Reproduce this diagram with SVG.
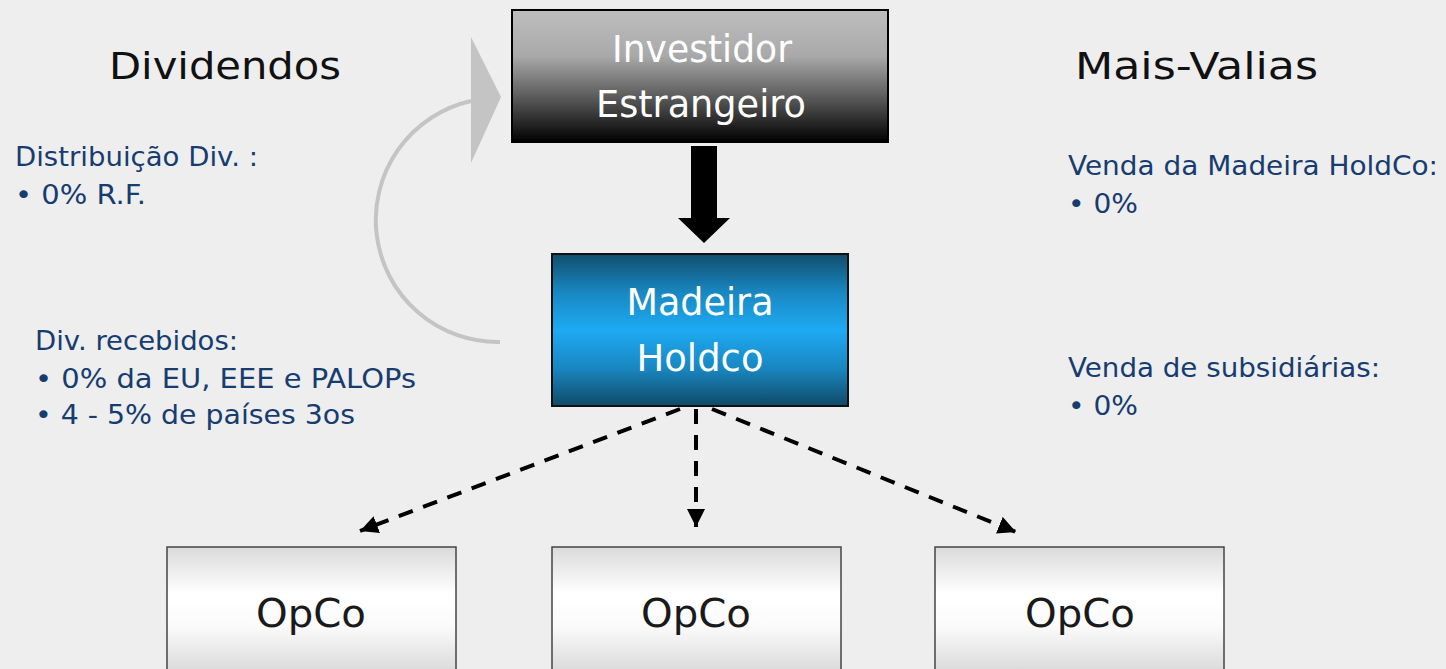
<svg xmlns="http://www.w3.org/2000/svg" width="1446" height="669" viewBox="0 0 1446 669">
  <defs>
    <linearGradient id="gInv" x1="0" y1="0" x2="0" y2="1">
      <stop offset="0" stop-color="#bebebe"/>
      <stop offset="0.35" stop-color="#a9a9a9"/>
      <stop offset="0.7" stop-color="#505050"/>
      <stop offset="1" stop-color="#000000"/>
    </linearGradient>
    <linearGradient id="gMad" x1="0" y1="0" x2="0" y2="1">
      <stop offset="0" stop-color="#104e6c"/>
      <stop offset="0.25" stop-color="#1987c1"/>
      <stop offset="0.5" stop-color="#1eaaf3"/>
      <stop offset="0.75" stop-color="#1987c1"/>
      <stop offset="1" stop-color="#0f4a68"/>
    </linearGradient>
    <linearGradient id="gOp" x1="0" y1="0" x2="0" y2="1">
      <stop offset="0" stop-color="#dadada"/>
      <stop offset="0.35" stop-color="#ffffff"/>
      <stop offset="0.6" stop-color="#fbfbfb"/>
      <stop offset="0.95" stop-color="#d9d9d9"/>
      <stop offset="1" stop-color="#d6d6d6"/>
    </linearGradient>
    <marker id="ah" markerUnits="userSpaceOnUse" markerWidth="18" markerHeight="18" refX="16" refY="8" orient="auto" viewBox="0 0 16 16">
      <path d="M0,0 L16,8 L0,16 z" fill="#000"/>
    </marker>
  </defs>
  <style>
    .title { font-family: "DejaVu Sans", Verdana, sans-serif; font-size: 38px; fill: #111; }
    .box { font-family: "DejaVu Sans", Verdana, sans-serif; font-size: 37px; fill: #ffffff; text-anchor: middle; }
    .op { font-family: "DejaVu Sans", Verdana, sans-serif; font-size: 39px; fill: #1a1a1a; text-anchor: middle; }
    .note { font-family: "DejaVu Sans", Verdana, sans-serif; font-size: 27px; fill: #173c70; }
    .dash { fill: none; stroke: #000; stroke-width: 4; stroke-dasharray: 15 11; marker-end: url(#ah); }
  </style>
  <rect x="0" y="0" width="1446" height="669" fill="#eeeeee"/>

  <g id="label-dividendos">
    <text class="title" x="109" y="79" textLength="232" lengthAdjust="spacingAndGlyphs">Dividendos</text>
  </g>
  <g id="label-maisvalias">
    <text class="title" x="1075" y="79" textLength="243" lengthAdjust="spacingAndGlyphs">Mais-Valias</text>
  </g>

  <g id="notes-left">
    <text class="note" x="15" y="166" textLength="243" lengthAdjust="spacingAndGlyphs">Distribuição Div. :</text>
    <text class="note" x="15" y="204" textLength="131" lengthAdjust="spacingAndGlyphs">• 0% R.F.</text>
    <text class="note" x="35" y="350" textLength="203" lengthAdjust="spacingAndGlyphs">Div. recebidos:</text>
    <text class="note" x="35" y="388" textLength="381" lengthAdjust="spacingAndGlyphs">• 0% da EU, EEE e PALOPs</text>
    <text class="note" x="35" y="424" textLength="320" lengthAdjust="spacingAndGlyphs">• 4 - 5% de países 3os</text>
  </g>

  <g id="notes-right">
    <text class="note" x="1068" y="175" textLength="370" lengthAdjust="spacingAndGlyphs">Venda da Madeira HoldCo:</text>
    <text class="note" x="1068" y="213" textLength="70" lengthAdjust="spacingAndGlyphs">• 0%</text>
    <text class="note" x="1068" y="377" textLength="312" lengthAdjust="spacingAndGlyphs">Venda de subsidiárias:</text>
    <text class="note" x="1068" y="415" textLength="70" lengthAdjust="spacingAndGlyphs">• 0%</text>
  </g>

  <g id="connectors">
    <path d="M 500 342 A 122 122 0 0 1 471 101" fill="none" stroke="#c4c4c4" stroke-width="4"/>
    <polygon points="471,37 501,97 471,163" fill="#c4c4c4"/>
    <polygon points="691,146 717,146 717,218 730,218 704,243 678,218 691,218" fill="#000"/>
    <line class="dash" x1="680" y1="409" x2="360" y2="531"/>
    <line class="dash" x1="696" y1="409" x2="696" y2="527"/>
    <line class="dash" x1="712" y1="409" x2="1016" y2="532"/>
  </g>

  <g id="investidor">
    <rect x="512" y="10" width="376" height="132" fill="url(#gInv)" stroke="#000" stroke-width="2"/>
    <text class="box" x="702" y="62" textLength="180" lengthAdjust="spacingAndGlyphs">Investidor</text>
    <text class="box" x="701" y="117" textLength="210" lengthAdjust="spacingAndGlyphs">Estrangeiro</text>
  </g>

  <g id="madeira">
    <rect x="552" y="254" width="296" height="152" fill="url(#gMad)" stroke="#111" stroke-width="2"/>
    <text class="box" x="700" y="315" textLength="147" lengthAdjust="spacingAndGlyphs">Madeira</text>
    <text class="box" x="700" y="371" textLength="127" lengthAdjust="spacingAndGlyphs">Holdco</text>
  </g>

  <g id="opco1">
    <rect x="167" y="547" width="289" height="132" fill="url(#gOp)" stroke="#444" stroke-width="1.5"/>
    <text class="op" x="311" y="627" textLength="110" lengthAdjust="spacingAndGlyphs">OpCo</text>
  </g>
  <g id="opco2">
    <rect x="552" y="547" width="289" height="132" fill="url(#gOp)" stroke="#444" stroke-width="1.5"/>
    <text class="op" x="696" y="627" textLength="110" lengthAdjust="spacingAndGlyphs">OpCo</text>
  </g>
  <g id="opco3">
    <rect x="935" y="547" width="289" height="132" fill="url(#gOp)" stroke="#444" stroke-width="1.5"/>
    <text class="op" x="1080" y="627" textLength="110" lengthAdjust="spacingAndGlyphs">OpCo</text>
  </g>
</svg>
